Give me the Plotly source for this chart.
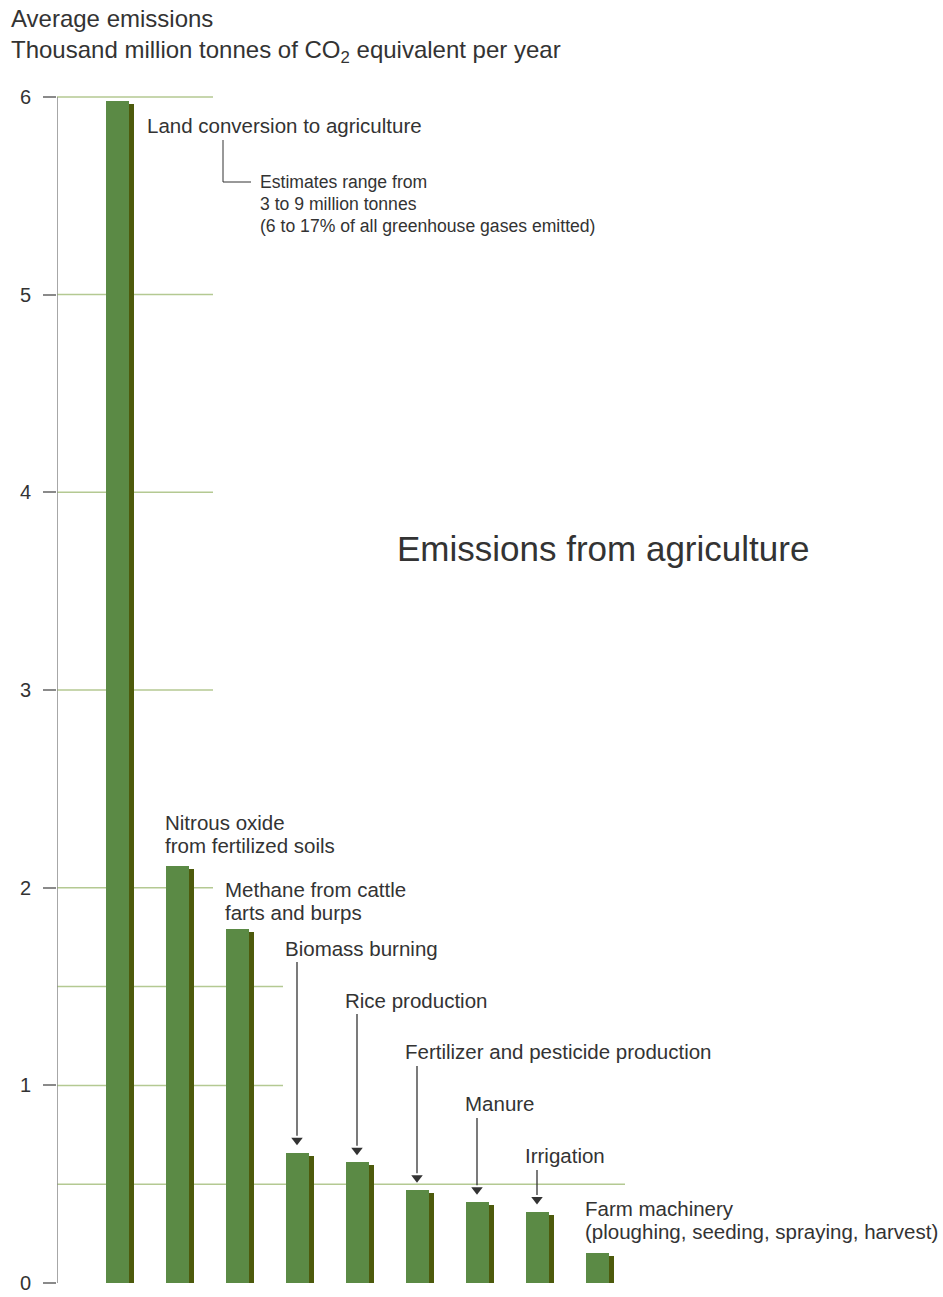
import plotly.graph_objects as go

# Emission sources, in drawing order
sources = [
    "Land conversion to agriculture",
    "Nitrous oxide from fertilized soils",
    "Methane from cattle farts and burps",
    "Biomass burning",
    "Rice production",
    "Fertilizer and pesticide production",
    "Manure",
    "Irrigation",
    "Farm machinery",
]
# Average emissions, thousand million tonnes CO2 equivalent per year
emissions = [5.98, 2.11, 1.79, 0.66, 0.61, 0.47, 0.41, 0.36, 0.15]

# Label text shown next to each bar, one entry per line
labels = [
    ["Land conversion to agriculture"],
    ["Nitrous oxide", "from fertilized soils"],
    ["Methane from cattle", "farts and burps"],
    ["Biomass burning"],
    ["Rice production"],
    ["Fertilizer and pesticide production"],
    ["Manure"],
    ["Irrigation"],
    ["Farm machinery", "(ploughing, seeding, spraying, harvest)"],
]
note_lines = ["Estimates range from", "3 to 9 million tonnes",
              "(6 to 17% of all greenhouse gases emitted)"]
y_ticks = [0, 1, 2, 3, 4, 5, 6]

# ---- layout geometry (pixels) ----
W, H = 943, 1297
ML, MR, MT, MB = 57, 0, 80, 7
PX_PER_X = 60.0
Y_LO = -0.035
PX_PER_Y = 197.7
plot_w = W - ML - MR
plot_h = H - MT - MB
X_RANGE = [0, plot_w / PX_PER_X]
Y_RANGE = [Y_LO, Y_LO + plot_h / PX_PER_Y]


def dx(px):
    """page x pixel -> data x"""
    return (px - ML) / PX_PER_X


def dy(py):
    """page y pixel -> data y"""
    return Y_LO + (H - MB - py) / PX_PER_Y


def paper_x(px):
    return (px - ML) / plot_w


def paper_y(py):
    return (H - MB - py) / plot_h


TEXT = "#333333"
GREEN = "#5b8a45"
SHADOW = "#4d5a0c"
GRID = "#b4c992"
AXIS = "#8a8a8a"
FONT = "Liberation Sans, Arial, sans-serif"

xs = [i + 1 for i in range(len(sources))]
bar_w = 23 / PX_PER_X
shade_shift = 5 / PX_PER_X

fig = go.Figure()
# darker right-hand edge sitting behind each bar
fig.add_trace(go.Bar(
    x=xs, y=[v - 0.015 for v in emissions], width=bar_w,
    offset=-bar_w / 2 + shade_shift,
    marker=dict(color=SHADOW, line=dict(width=0)),
    hoverinfo="skip", showlegend=False,
))
fig.add_trace(go.Bar(
    x=xs, y=emissions, width=bar_w, offset=-bar_w / 2,
    marker=dict(color=GREEN, line=dict(width=0)),
    hovertext=sources, showlegend=False,
))

# horizontal guide lines: (value, right end in px)
guides = [(6, 213), (5, 213), (4, 213), (3, 213), (2, 213),
          (1.5, 283), (1, 283), (0.5, 625)]
shapes = []
for val, end in guides:
    shapes.append(dict(type="line", xref="x", yref="y", x0=0, x1=dx(end),
                       y0=val, y1=val, layer="below",
                       line=dict(color=GRID, width=1.5)))
# vertical axis line
shapes.append(dict(type="line", xref="x", yref="y", x0=0, x1=0,
                   y0=0, y1=y_ticks[-1], line=dict(color=AXIS, width=1.5)))
# connector for the range note
shapes.append(dict(type="path", xref="x", yref="y",
                   path=f"M {dx(223)},{dy(140)} L {dx(223)},{dy(182)} L {dx(251)},{dy(182)}",
                   line=dict(color=TEXT, width=1)))

# pointer arrows from labels down to the smaller bars: shaft + triangular head
GAP = 0.04
HEAD = 0.045
arrow_tail_px = {3: 962, 4: 1014, 5: 1066, 6: 1118, 7: 1170}
head_x, head_y = [], []
for i, tail in arrow_tail_px.items():
    tip = emissions[i] + GAP
    shapes.append(dict(type="line", xref="x", yref="y", x0=xs[i], x1=xs[i],
                       y0=dy(tail), y1=tip + HEAD, line=dict(color=TEXT, width=1.3)))
    head_x.append(xs[i])
    head_y.append(tip + HEAD / 2)
fig.add_trace(go.Scatter(
    x=head_x, y=head_y, mode="markers",
    marker=dict(symbol="triangle-down", size=10, color=TEXT, line=dict(width=0)),
    hoverinfo="skip", showlegend=False,
))

annotations = []


def add_text(text, px, py, size):
    annotations.append(dict(text=text, x=paper_x(px), y=paper_y(py),
                            xref="paper", yref="paper", borderpad=0,
                            xanchor="left", yanchor="middle", showarrow=False,
                            align="left", font=dict(family=FONT, size=size, color=TEXT)))


# axis title (two lines at top-left)
add_text("Average emissions", 10, 19, 24)
add_text("Thousand million tonnes of CO<sub>2</sub> equivalent per year", 10, 51, 24)

add_text("Emissions from agriculture", 396, 548, 35)

# label positions (left x px, first-line centre y px); 23.5 px between lines
label_pos = [(146, 126), (164, 822), (224, 889), (284, 948), (344, 1000),
             (404, 1051), (464, 1103), (524, 1155), (584, 1208)]
for lines, (px, py) in zip(labels, label_pos):
    for k, line in enumerate(lines):
        add_text(line, px, py + 23.5 * k, 20.5)

for k, line in enumerate(note_lines):
    add_text(line, 259, 182 + 22 * k, 17.6)

fig.update_layout(
    width=W, height=H,
    margin=dict(l=ML, r=MR, t=MT, b=MB),
    paper_bgcolor="white", plot_bgcolor="white",
    barmode="overlay", bargap=0,
    shapes=shapes, annotations=annotations,
    xaxis=dict(range=X_RANGE, visible=False, fixedrange=True),
    yaxis=dict(range=Y_RANGE, tickvals=y_ticks, ticktext=[str(t) for t in y_ticks],
               ticks="outside", ticklen=13, tickcolor=AXIS, tickwidth=1.5,
               showline=False, showgrid=False, zeroline=False,
               ticklabelstandoff=8,
               tickfont=dict(family=FONT, size=20, color=TEXT), fixedrange=True),
    font=dict(family=FONT, color=TEXT),
)

fig.write_html("out.html")
